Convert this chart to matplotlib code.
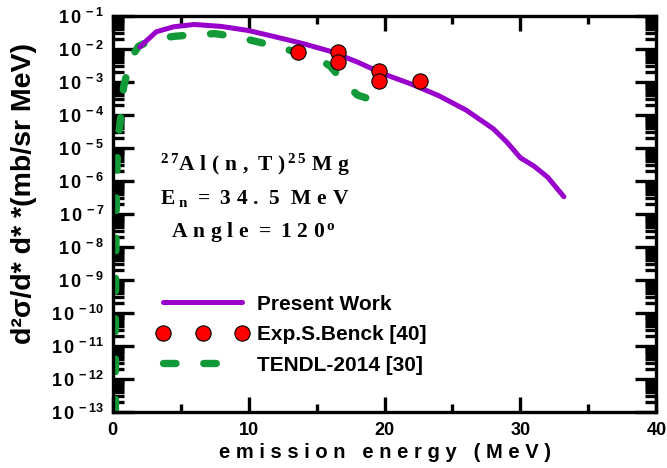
import matplotlib
matplotlib.use("Agg")
import matplotlib.pyplot as plt
from matplotlib.ticker import FixedLocator, LogLocator, NullFormatter, MultipleLocator

plt.rcParams['font.family'] = ['Liberation Sans', 'DejaVu Sans']
plt.rcParams['mathtext.fontset'] = 'custom'
plt.rcParams['mathtext.bf'] = 'Liberation Sans:bold'
plt.rcParams['mathtext.rm'] = 'Liberation Sans:bold'
plt.rcParams['mathtext.sf'] = 'Liberation Serif:bold'
plt.rcParams['lines.scale_dashes'] = False

# Present Work (theory)
pw_x = [2.0, 3.2, 4.5, 6.0, 8.0, 10.0, 12.0, 14.0, 16.0, 18.0, 20.0, 22.0, 24.0, 26.0, 28.0, 29.0, 30.0, 31.0, 32.0, 33.2]
pw_y = [1.15e-2, 3.3e-2, 4.7e-2, 5.5e-2, 4.8e-2, 3.6e-2, 2.3e-2, 1.45e-2, 8.5e-3, 4.0e-3, 1.7e-3, 8.5e-4,
        3.8e-4, 1.4e-4, 3.8e-5, 1.5e-5, 5e-6, 2.8e-6, 1.3e-6, 3.3e-7]

# Experimental data (S. Benck)
exp_x = [13.6, 16.6, 16.6, 19.6, 19.6, 22.6]
exp_y = [8.1e-3, 8.1e-3, 4.1e-3, 2.1e-3, 1.07e-3, 1.07e-3]

# TENDL-2014
tendl_x = [0.2, 0.2, 0.25, 0.35, 0.6, 0.8, 1.3, 1.9, 3.0, 4.5, 6.0, 7.5, 9.0, 10.5, 12.0, 13.5, 15.0, 16.0, 17.0, 18.0, 19.5]
tendl_y = [1e-13, 1e-10, 1e-7, 1e-5, 1e-4, 7e-4, 5e-3, 1.2e-2, 2.0e-2, 2.4e-2, 2.7e-2, 2.9e-2, 2.4e-2, 1.7e-2,
           1.2e-2, 8e-3, 5.5e-3, 3.0e-3, 1.0e-3, 4e-4, 2.5e-4]

xticks = [0, 10, 20, 30, 40]
ydecades = list(range(-13, 0))

fig = plt.figure(figsize=(6.67, 4.68), dpi=100)
ax = fig.add_axes([0.169, 0.120, 0.815, 0.846])

ax.plot(tendl_x, tendl_y, color='#129a38', lw=5.3, dashes=(9, 20), dash_capstyle='round',
        solid_capstyle='round', label='TENDL-2014 [30]', zorder=2)
ax.plot(pw_x, pw_y, color='#9a00cc', lw=3.6, solid_capstyle='round', label='Present Work', zorder=3)
ax.plot(exp_x, exp_y, 'o', color='#ff0000', mec='black', mew=0.8, ms=11, label='Exp.S.Benck [40]', zorder=4)

ax.set_yscale('log')
ax.set_xlim(0, 40)
ax.set_ylim(1e-13, 1e-1)

ax.xaxis.set_major_locator(FixedLocator(xticks))
ax.xaxis.set_minor_locator(MultipleLocator(5))
ax.set_xticklabels([str(t) for t in xticks], fontsize=13, fontweight='bold')
ax.yaxis.set_major_locator(FixedLocator([10.0**d for d in ydecades]))
ax.yaxis.set_minor_locator(LogLocator(base=10, subs=range(2, 10), numticks=100))
ax.yaxis.set_minor_formatter(NullFormatter())
ax.set_yticklabels([r'$\mathbf{1\,0^{\,%d}}$' % d for d in ydecades], fontsize=13)

ax.tick_params(which='both', direction='in', top=True, right=True, width=2.4)
ax.tick_params(axis='x', which='major', length=11, pad=7)
ax.tick_params(axis='x', which='minor', length=6)
ax.tick_params(axis='y', which='major', length=15, pad=6)
ax.tick_params(axis='y', which='minor', length=8)
for s in ax.spines.values():
    s.set_linewidth(2.4)

ax.set_xlabel('e m i s s i o n   e n e r g y   ( M e V )', fontsize=14.5, fontweight='bold', labelpad=3)
fig.text(24 / 667, 1 - 193 / 468, 'd²σ/d* d* *(mb/sr MeV)', fontsize=20.5, fontweight='bold',
         rotation=90, ha='center', va='center')

ann_kw = dict(transform=ax.transAxes, fontsize=15.5, ha='center', va='center')
ax.text(0.261, 0.624, r'$\mathsf{{}^{2\,7}A\;l\;(\;n\;,\;T\;)^{\,2\,5}\;M\;g}$', **ann_kw)
ax.text(0.261, 0.540, r'$\mathsf{E_{\;n}\;=\;3\;4\;.\;5\;\;M\;e\;V}$', **ann_kw)
ax.text(0.258, 0.455, r'$\mathsf{A\;n\;g\;l\;e\;=\;1\;2\;0^{\,o}}$', **ann_kw)

handles, labels = ax.get_legend_handles_labels()
order = [1, 2, 0]
leg = ax.legend([handles[i] for i in order], [labels[i] for i in order], loc='upper left',
                bbox_to_anchor=(0.081, 0.296), frameon=False, numpoints=3,
                handlelength=4.4, handletextpad=0.4, labelspacing=0.55,
                borderaxespad=0, borderpad=0,
                prop={'weight': 'bold', 'size': 15})

fig.savefig('out.png', dpi=100)
